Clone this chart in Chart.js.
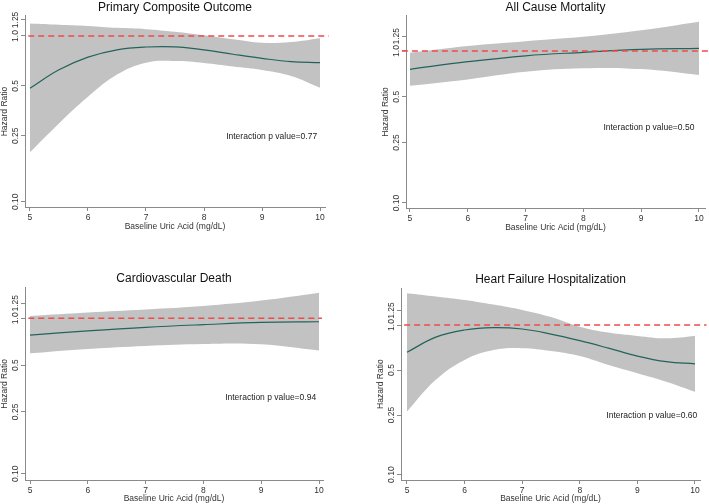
<!DOCTYPE html>
<html><head><meta charset="utf-8">
<script src="https://cdn.jsdelivr.net/npm/chart.js@4"></script>
<style>
html,body{margin:0;padding:0;background:#fff;}
#wrap{position:relative;width:709px;height:504px;overflow:hidden;}
canvas{position:absolute;}
</style></head><body>
<div id="wrap">
<canvas id="c0" width="355" height="250" style="left:0;top:0"></canvas>
<canvas id="c1" width="354" height="250" style="left:355px;top:0"></canvas>
<canvas id="c2" width="355" height="254" style="left:0;top:250px"></canvas>
<canvas id="c3" width="354" height="254" style="left:355px;top:250px"></canvas>
</div>
<script>
// ---------- data ----------
const panelTitles = ['Primary Composite Outcome', 'All Cause Mortality', 'Cardiovascular Death', 'Heart Failure Hospitalization'];
const xAxisTitle = 'Baseline Uric Acid (mg/dL)';
const yAxisTitle = 'Hazard Ratio';
const xTickValues = [5, 6, 7, 8, 9, 10];
const yTickValues = [0.1, 0.25, 0.5, 1, 1.25];
const yTickLabels = ['0.10', '0.25', '0.5', '1.0', '1.25'];
const pValueTexts = ['Interaction p value=0.77', 'Interaction p value=0.50', 'Interaction p value=0.94', 'Interaction p value=0.60'];
const referenceHR = 1;

const uricFine = [5, 5.5, 6, 6.5, 7, 7.5, 8, 8.5, 9, 9.5, 10];
const uricCoarse = [5, 6, 7, 8, 9, 10];

// Primary composite outcome
const pcoHR    = [0.484, 0.625, 0.745, 0.825, 0.858, 0.86, 0.825, 0.776, 0.733, 0.70, 0.69];
const pcoUpper = [1.19, 1.17, 1.15, 1.12, 1.10, 1.06, 1.01, 0.955, 0.91, 0.92, 0.97];
const pcoLower = [0.199, 0.297, 0.43, 0.585, 0.69, 0.707, 0.688, 0.655, 0.624, 0.574, 0.488];

// All cause mortality
const acmHR    = [0.758, 0.85, 0.93, 0.98, 1.025, 1.04];
const acmUpper = [0.975, 1.08, 1.16, 1.24, 1.37, 1.56];
const acmLower = [0.59, 0.65, 0.73, 0.77, 0.76, 0.695];

// Cardiovascular death
const cvdHR    = [0.78, 0.83, 0.875, 0.91, 0.94, 0.95];
const cvdUpper = [1.035, 1.09, 1.14, 1.20, 1.30, 1.46];
const cvdLower = [0.595, 0.635, 0.664, 0.683, 0.68, 0.62];

// Heart failure hospitalization
const hfhHR    = [0.657, 0.83, 0.926, 0.96, 0.94, 0.87, 0.786, 0.70, 0.62, 0.569, 0.55];
const hfhUpper = [1.63, 1.55, 1.47, 1.37, 1.26, 1.13, 0.975, 0.89, 0.845, 0.815, 0.845];
const hfhLower = [0.264, 0.43, 0.584, 0.68, 0.70, 0.67, 0.62, 0.54, 0.476, 0.418, 0.358];

// ---------- layout / style ----------
const FONT = "'Liberation Sans', Arial, Helvetica, sans-serif";
const panels = [
  {id:'c0', x:uricFine,   hr:pcoHR, up:pcoUpper, lo:pcoLower,
   pad:{top:0.6,left:0,right:30,bottom:0}, tpb:1, xH:43, xtp:17.9,
   xMin:4.914, xMax:10.086, yMin:0.0930, yMax:1.320, refX:[4.97,10.15], txt:{x:9.95,y:0.247}},
  {id:'c1', x:uricCoarse, hr:acmHR, up:acmUpper, lo:acmLower,
   pad:{top:0.6,left:26,right:4,bottom:0}, tpb:1, xH:42, xtp:17.6,
   xMin:4.931, xMax:10.104, yMin:0.0927, yMax:1.699, refX:[4.86,10.2], txt:{x:9.92,y:0.313}},
  {id:'c2', x:uricCoarse, hr:cvdHR, up:cvdUpper, lo:cvdLower,
   pad:{top:21.8,left:0,right:32,bottom:0}, tpb:1.5, xH:24, xtp:0,
   xMin:4.913, xMax:10.069, yMin:0.0911, yMax:1.573, refX:[4.97,10.05], txt:{x:9.95,y:0.308}},
  {id:'c3', x:uricFine,   hr:hfhHR, up:hfhUpper, lo:hfhLower,
   pad:{top:22.1,left:21,right:9,bottom:0}, tpb:1.8, xH:24, xtp:0,
   xMin:4.896, xMax:10.087, yMin:0.0921, yMax:1.759, refX:[4.95,10.2], txt:{x:10.04,y:0.248}}
];

const pTextPlugin = {
  id: 'ptext',
  afterDatasetsDraw(chart, args, opts) {
    const {ctx, scales} = chart;
    ctx.save();
    ctx.font = `8.5px ${FONT}`;
    ctx.fillStyle = '#222';
    ctx.textAlign = 'right';
    ctx.textBaseline = 'middle';
    ctx.fillText(opts.text, scales.x.getPixelForValue(opts.x), scales.y.getPixelForValue(opts.y));
    ctx.restore();
  }
};

const pts = (xs, ys) => xs.map((v, i) => ({x: v, y: ys[i]}));

panels.forEach((p, k) => {
  new Chart(document.getElementById(p.id), {
    type: 'line',
    data: {
      datasets: [
        {data: pts(p.x, p.up), borderWidth: 0, borderColor: 'rgba(0,0,0,0)', backgroundColor: '#c2c2c2',
         fill: '+1', pointRadius: 0, tension: 0.4, order: 2},
        {data: pts(p.x, p.lo), borderWidth: 0, borderColor: 'rgba(0,0,0,0)', fill: false,
         pointRadius: 0, tension: 0.4, order: 3},
        {data: pts(p.x, p.hr), borderWidth: 1.2, borderColor: '#236459', fill: false,
         pointRadius: 0, tension: 0.4, order: 1},
        {data: p.refX.map(v => ({x: v, y: referenceHR})), borderWidth: 1.4, borderColor: '#ef4b4b',
         borderDash: [6, 4], fill: false, pointRadius: 0, clip: false, order: 0}
      ]
    },
    options: {
      responsive: false,
      animation: false,
      layout: {padding: p.pad},
      plugins: {
        legend: {display: false},
        tooltip: {enabled: false},
        title: {display: true, text: panelTitles[k], fullSize: false, color: '#111',
                font: {family: FONT, size: 12, weight: 'normal'}, padding: {top: 0, bottom: p.tpb}},
        ptext: {text: pValueTexts[k], x: p.txt.x, y: p.txt.y}
      },
      scales: {
        x: {
          type: 'linear', min: p.xMin, max: p.xMax,
          afterBuildTicks: s => { s.ticks = xTickValues.map(v => ({value: v})); },
          afterFit: s => { s.height = p.xH; },
          grid: {display: true, drawOnChartArea: false, drawTicks: true, tickLength: 4, color: '#8a8a8a'},
          border: {display: true, color: '#8a8a8a', width: 1},
          ticks: {autoSkip: false, maxRotation: 0, padding: 1.5, color: '#333', font: {family: FONT, size: 8.5}},
          title: {display: true, text: xAxisTitle, color: '#333', font: {family: FONT, size: 8.5},
                  padding: {top: 0, bottom: p.xtp}}
        },
        y: {
          type: 'logarithmic', min: p.yMin, max: p.yMax,
          afterBuildTicks: s => { s.ticks = yTickValues.map(v => ({value: v})); },
          afterFit: s => { s.width = 25; },
          grid: {display: true, drawOnChartArea: false, drawTicks: true, tickLength: 4, color: '#8a8a8a'},
          border: {display: true, color: '#8a8a8a', width: 1},
          ticks: {autoSkip: false, minRotation: 90, maxRotation: 90, crossAlign: 'center', padding: -3,
                  color: '#333', font: {family: FONT, size: 8.5},
                  callback: (v, i) => yTickLabels[i]},
          title: {display: true, text: yAxisTitle, color: '#333', font: {family: FONT, size: 8.5},
                  padding: {top: 0, bottom: 0}}
        }
      }
    },
    plugins: [pTextPlugin]
  });
});
</script>
</body></html>
